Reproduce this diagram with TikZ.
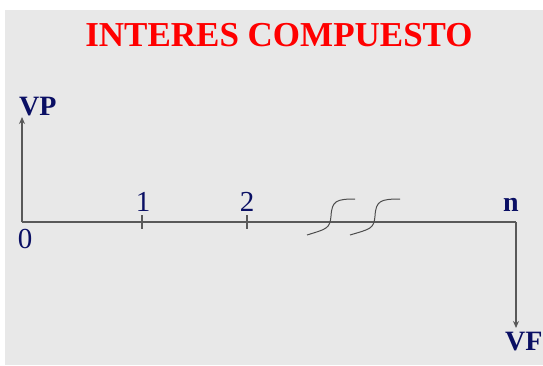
\documentclass[tikz,border=0pt]{standalone}
\usepackage{fontspec}
\setmainfont{Liberation Serif}
\usetikzlibrary{arrows.meta}

\begin{document}
\begin{tikzpicture}[
  x=1pt,
  y=-1pt,
  navytext/.style={text={rgb,255:red,10;green,15;blue,100}},
  titletext/.style={
    text=red,
    font=\bfseries\fontsize{35}{40}\selectfont
  },
  labeltext/.style={
    navytext,
    font=\bfseries\fontsize{28}{32}\selectfont,
    inner sep=0pt
  },
  numtext/.style={
    navytext,
    font=\fontsize{29}{32}\selectfont,
    inner sep=0pt
  },
  axisline/.style={line width=1.1pt, color=black!65},
  tipline/.style={axisline, -{Stealth[length=7pt,width=6pt]}},
  breakline/.style={line width=1pt, color=black!70}
]

% Canvas, same size as the slide
\path[use as bounding box] (0,0) rectangle (543,365);
\fill[black!9] (5,10) rectangle (543,365);

% Title
\node[titletext] (title) at (279,35) {INTERES COMPUESTO};

% Time line
\coordinate (origin) at (22,222);
\coordinate (last) at (516,222);
\coordinate (vptip) at (22,117);
\coordinate (vftip) at (516,328);

\draw[axisline] (origin) -- (last);
\draw[tipline] (origin) -- (vptip);
\draw[tipline] (last) -- (vftip);

% Ticks
\draw[axisline] (142,215) -- (142,229);
\draw[axisline] (247,215) -- (247,229);

% Labels
\node[labeltext, anchor=south west] (vp) at (19,116) {VP};
\node[labeltext, anchor=north west] (vf) at (505,332) {VF};
\node[numtext, anchor=north] (zero) at (25,229) {0};
\node[numtext, anchor=south] (one) at (143,212) {1};
\node[numtext, anchor=south] (two) at (247,212) {2};
\node[labeltext, anchor=south] (en) at (511,212) {n};

% Break marks
\draw[breakline] (307,235) .. controls (326,229) and (330,229) .. (331,216)
  .. controls (332,201) and (336,199) .. (355,199);
\draw[breakline] (350,235) .. controls (370,229) and (374,229) .. (375,216)
  .. controls (376,201) and (380,199) .. (400,199);

\end{tikzpicture}
\end{document}
